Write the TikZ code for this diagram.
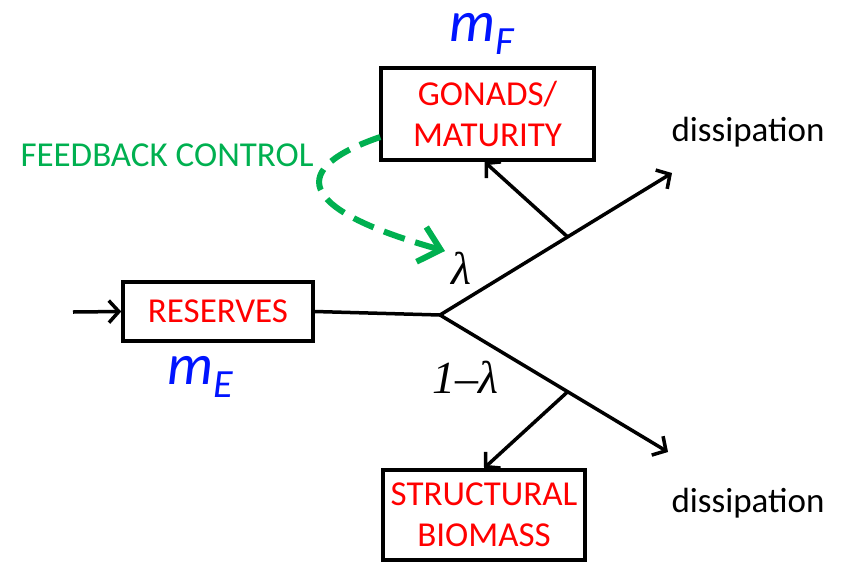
\documentclass[tikz,border=0pt]{standalone}
\usepackage{fontspec}
\setmainfont{Carlito}
\newfontfamily\tms{Liberation Serif}
\usetikzlibrary{arrows.meta,calc}
\definecolor{fbgreen}{RGB}{0,176,80}
\definecolor{mblue}{RGB}{0,20,255}
\tikzset{
  box/.style={draw=black,line width=3.5pt,inner sep=0pt,align=center,text=red,
    font=\fontsize{35}{41}\selectfont},
  flow/.style={line width=3.5pt,draw=black},
  arr/.style={flow,-{Straight Barb[length=10pt,width=22pt,line width=3.5pt]}},
  lbl/.style={inner sep=0pt,font=\fontsize{35}{41}\selectfont},
  mass/.style={inner sep=0pt,text=mblue},
  lam/.style={inner sep=0pt,font=\tms\itshape\fontsize{46}{48}\selectfont}
}
\begin{document}
\begin{tikzpicture}[x=1pt,y=-1pt]
\useasboundingbox (0,0) rectangle (844,566);
\node[box,minimum width=190pt,minimum height=59pt] (res) at (218,311.5) {RESERVES};
\node[box,minimum width=213pt,minimum height=92pt] (gon) at (487.5,114) {GONADS/\\MATURITY};
\node[box,minimum width=202pt,minimum height=90pt] (str) at (484,515) {STRUCTURAL\\BIOMASS};
\coordinate (in) at (73,312);
\coordinate (j) at (440,315);
\coordinate (d1) at (672,173);
\coordinate (d2) at (668,452);
\coordinate (b1) at ($(j)!0.55!(d1)$);
\coordinate (b2) at ($(j)!0.56!(d2)$);
\draw[arr] (in) -- (res.west);
\draw[flow] (res.east) -- (j);
\draw[arr] (j) -- (d1);
\draw[arr] (j) -- (d2);
\draw[arr] (b1) -- ([xshift=-3pt]gon.south);
\draw[arr] (b2) -- (str.north);
\node[lbl] (dis1) at (748,132) {dissipation};
\node[lbl] (dis2) at (748,503) {dissipation};
\node[lam] (l1) at (461,268) {λ};
\node[lam] (l2) at (465,377) {1–λ};
\node[mass] (mf) at (482,34) {\itshape\fontsize{58}{60}\selectfont m\raisebox{-13pt}{\fontsize{40}{40}\selectfont F}};
\node[mass] (me) at (200,377) {\itshape\fontsize{58}{60}\selectfont m\raisebox{-13pt}{\fontsize{40}{40}\selectfont E}};
\node[lbl,text=fbgreen] (fb) at (167,155) {FEEDBACK CONTROL};
\coordinate (fs) at ($(gon.west)+(1,23)$);
\coordinate (ft) at (445,251);
\draw[fbgreen,line width=6pt,dash pattern=on 22pt off 11pt,
  -{Straight Barb[length=20pt,width=36pt,line width=6pt]}]
  (fs) .. controls (290,168) and (292,208) .. (ft);
\end{tikzpicture}
\end{document}
